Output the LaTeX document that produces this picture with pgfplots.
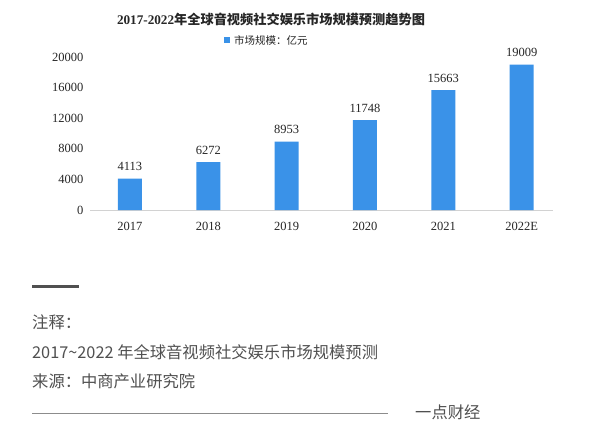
\documentclass[border=0pt]{standalone}
\usepackage{pgfplots}
\pgfplotsset{compat=1.18}
\usepackage{fontspec}
\setmainfont{Liberation Serif}
\newfontfamily\cjk{Noto Sans CJK SC}
\definecolor{barblue}{RGB}{58,146,232}
\definecolor{txtgray}{RGB}{80,80,80}
\definecolor{axgray}{RGB}{210,210,210}
\begin{document}
\begin{tikzpicture}[x=1pt,y=1pt]
\useasboundingbox[fill=white] (0,0) rectangle (600,437);
\begin{axis}[
  at={(90pt,227pt)}, anchor=south west,
  scale only axis, width=463pt, height=153pt,
  xmin=-0.51, xmax=5.4, ymin=0, ymax=20000,
  axis x line*=bottom, axis y line*=left,
  x axis line style={draw=axgray, line width=0.8pt, -},
  y axis line style={draw=none},
  tick style={draw=none}, major tick length=0pt,
  xtick=data, xticklabels={2017,2018,2019,2020,2021,2022E},
  ytick={0,4000,8000,12000,16000,20000},
  scaled y ticks=false,
  /pgf/number format/assume math mode=true,
  /pgf/number format/1000 sep={},
  ticklabel style={font=\fontsize{12.5}{13}\selectfont, text=black!85},
  xticklabel style={yshift=-9pt},
  yticklabel style={xshift=-3pt},
  nodes near coords,
  nodes near coords style={font=\fontsize{12.5}{13}\selectfont, text=black!85, yshift=4pt, /pgf/number format/fixed, /pgf/number format/1000 sep={}},
  clip=false
]
\addplot[ybar, bar width=24pt, fill=barblue, draw=none] coordinates {(0,4113) (1,6272) (2,8953) (3,11748) (4,15663) (5,19009)};
\end{axis}
% title
\node[font=\fontsize{13.2}{14}\selectfont\bfseries, text=black!85] at (271,437-19) {2017-2022{\cjk\bfseries 年全球音视频社交娱乐市场规模预测趋势图}};
% legend
\fill[barblue] (224,437-43) rectangle (230,437-37);
\node[anchor=west, inner sep=0pt, font=\cjk\fontsize{10.5}{11}\selectfont, text=black!85] at (234,437-40) {市场规模：亿元};
% footer
\draw[line width=3pt, txtgray] (32,437-287) -- (79,437-287);
\node[anchor=west, inner sep=0pt, font=\cjk\fontsize{16.3}{16}\selectfont, text=txtgray] at (32,437-322) {注释：};
\node[anchor=west, inner sep=0pt, font=\cjk\fontsize{16.3}{16}\selectfont, text=txtgray] at (32,437-352) {2017\textasciitilde 2022 年全球音视频社交娱乐市场规模预测};
\node[anchor=west, inner sep=0pt, font=\cjk\fontsize{16.3}{16}\selectfont, text=txtgray] at (32,437-381) {来源：中商产业研究院};
\draw[line width=0.8pt, black!45] (32,437-413) -- (388,437-413);
\node[anchor=west, inner sep=0pt, font=\cjk\fontsize{16.3}{16}\selectfont, text=txtgray] at (415,437-412) {一点财经};
\end{tikzpicture}
\end{document}
